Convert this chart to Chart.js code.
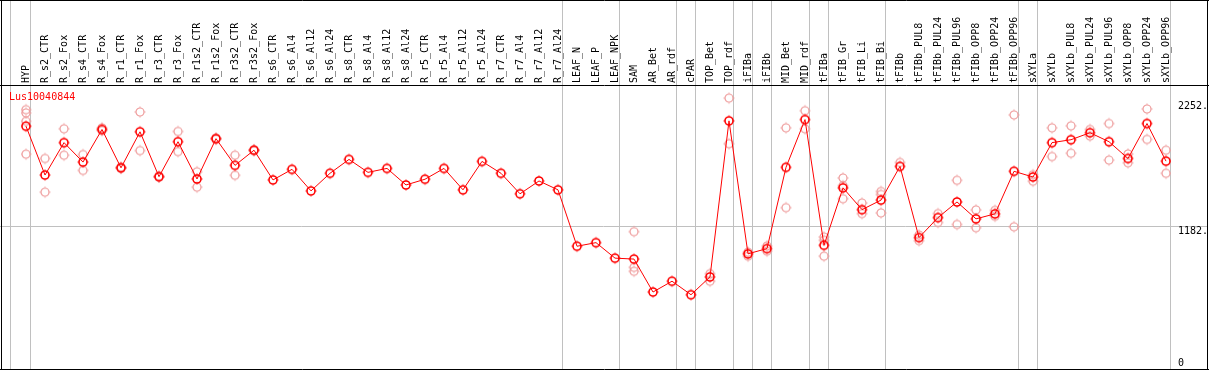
<!DOCTYPE html>
<html>
<head>
<meta charset="utf-8">
<script src="https://cdn.jsdelivr.net/npm/chart.js@4/dist/chart.umd.min.js"></script>
<style>
  html, body { margin: 0; padding: 0; background: #fff; }
  canvas { display: block; }
</style>
</head>
<body>
<canvas id="geneChart" width="1209" height="370"></canvas>
<script>
const geneName = "Lus10040844";

const categories = [
    "HYP", "R_s2_CTR", "R_s2_Fox", "R_s4_CTR", "R_s4_Fox", "R_r1_CTR", "R_r1_Fox",
    "R_r3_CTR", "R_r3_Fox", "R_r1s2_CTR", "R_r1s2_Fox", "R_r3s2_CTR", "R_r3s2_Fox",
    "R_s6_CTR", "R_s6_Al4", "R_s6_Al12", "R_s6_Al24", "R_s8_CTR", "R_s8_Al4",
    "R_s8_Al12", "R_s8_Al24", "R_r5_CTR", "R_r5_Al4", "R_r5_Al12", "R_r5_Al24",
    "R_r7_CTR", "R_r7_Al4", "R_r7_Al12", "R_r7_Al24", "LEAF_N", "LEAF_P", "LEAF_NPK",
    "SAM", "AR_Bet", "AR_rdf", "cPAR", "TOP_Bet", "TOP_rdf", "iFIBa", "iFIBb",
    "MID_Bet", "MID_rdf", "tFIBa", "tFIB_Gr", "tFIB_Li", "tFIB_Bi", "tFIBb",
    "tFIBb_PUL8", "tFIBb_PUL24", "tFIBb_PUL96", "tFIBb_OPP8", "tFIBb_OPP24",
    "tFIBb_OPP96", "sXYLa", "sXYLb", "sXYLb_PUL8", "sXYLb_PUL24", "sXYLb_PUL96",
    "sXYLb_OPP8", "sXYLb_OPP24", "sXYLb_OPP96",
];

// mean expression per sample
const meanValues = [
    2042, 1623, 1901, 1734, 2014, 1685, 1994, 1609, 1909, 1589, 1935, 1706, 1836,
    1581, 1672, 1487, 1638, 1757, 1646, 1680, 1538, 1587, 1680, 1496, 1740,
    1638, 1462, 1572, 1496, 1012, 1043, 910,
    902, 619, 712, 596, 749, 2088, 947, 992, 1689, 2099,
    1020, 1513, 1326, 1408, 1697, 1086, 1258, 1392, 1247, 1290, 1655,
    1606, 1901, 1926, 1986, 1909, 1765, 2065, 1742,
];

// individual replicates per sample
const replicateValues = [
    [2184, 2156, 2084, 1802], [1765, 1476], [2020, 1793], [1799, 1663], [2028, 2005],
    [1690, 1680], [2164, 1833], [1612, 1606], [1997, 1824], [1651, 1519], [1940, 1930],
    [1793, 1621], [1840, 1832],
    [], [], [], [], [], [], [], [], [], [], [], [], [], [], [], [],
    [], [], [],
    [1137, 831, 797], [], [], [], [777, 712], [2283, 1892], [961, 927], [1015, 970],
    [2028, 1343], [2175, 2020],
    [1091, 1063, 927], [1598, 1532, 1420], [1383, 1292], [1482, 1456, 1298], [1731],
    [1108, 1060], [1292, 1216], [1578, 1199], [1324, 1171], [1320, 1269], [2139, 1179],
    [1626, 1570], [2028, 1782], [2045, 1810], [2014, 1957], [2065, 1751], [1804, 1728],
    [2190, 1929], [1836, 1638],
];

// group separators come after these samples
const groupEnds = [0, 28, 31, 34, 35, 37, 38, 39, 41, 42, 45, 52, 53, 60];

const axisTicks = [2252, 1182, 0];
const axisTickLabels = ["2252.", "1182.", "0"];
const gridTicks = [1182];

const FONT = '10px "DejaVu Sans Mono", monospace';

function makeMarker(color, lw) {
    const c = document.createElement("canvas");
    c.width = 14;
    c.height = 14;
    const g = c.getContext("2d");
    g.strokeStyle = color;
    g.lineWidth = lw;
    g.beginPath();
    g.arc(7, 7, 4, 0, Math.PI * 2);
    g.stroke();
    g.fillStyle = color;
    // small nubs on the ring
    g.fillRect(6.5, 1.5, 1, 1.2);
    g.fillRect(6.5, 11.3, 1, 1.2);
    g.fillRect(1.5, 6.5, 1.2, 1);
    g.fillRect(11.3, 6.5, 1.2, 1);
    return c;
}

const replicatePoints = [];
replicateValues.forEach((reps, i) => {
    reps.forEach((v) => replicatePoints.push({ x: categories[i], y: v }));
});

const framePlugin = {
    id: "frame",
    beforeDatasetsDraw(chart) {
        const ctx = chart.ctx;
        const xs = chart.scales.x;
        const ys = chart.scales.y;
        const W = chart.width;
        const H = chart.height;
        ctx.save();
        ctx.strokeStyle = "#c0c0c0";
        ctx.lineWidth = 1;
        ctx.beginPath();
        // leftmost separator before the first sample
        const x0 = Math.round(xs.getPixelForValue(0) - 16) + 0.5;
        ctx.moveTo(x0, 0);
        ctx.lineTo(x0, H);
        groupEnds.forEach((i) => {
            const x = Math.round(xs.getPixelForValue(i) + 4) + 0.5;
            ctx.moveTo(x, 0);
            ctx.lineTo(x, H);
        });
        gridTicks.forEach((t) => {
            const y = Math.round(ys.getPixelForValue(t)) + 0.5;
            ctx.moveTo(0, y);
            ctx.lineTo(W - 2, y);
        });
        ctx.stroke();
        ctx.restore();
    },
    afterDraw(chart) {
        const ctx = chart.ctx;
        const xs = chart.scales.x;
        const ys = chart.scales.y;
        const W = chart.width;
        const H = chart.height;
        ctx.save();

        // black frame
        ctx.strokeStyle = "#000";
        ctx.lineWidth = 1;
        ctx.beginPath();
        ctx.moveTo(0, 0.5); ctx.lineTo(W, 0.5);
        ctx.moveTo(0, 85.5); ctx.lineTo(W, 85.5);
        ctx.moveTo(0, H - 0.5); ctx.lineTo(W, H - 0.5);
        ctx.moveTo(1.5, 0); ctx.lineTo(1.5, H);
        ctx.moveTo(W - 1.5, 0); ctx.lineTo(W - 1.5, H);
        ctx.stroke();

        // sample labels, vertical
        ctx.font = FONT;
        ctx.fillStyle = "#000";
        ctx.textAlign = "left";
        ctx.textBaseline = "middle";
        categories.forEach((lab, i) => {
            const x = xs.getPixelForValue(i);
            ctx.save();
            ctx.translate(x, 83);
            ctx.rotate(-Math.PI / 2);
            ctx.fillText(lab, 0, 0);
            ctx.restore();
        });

        // right side value labels
        ctx.textBaseline = "top";
        axisTicks.forEach((t, k) => {
            let y = ys.getPixelForValue(t);
            y = Math.min(y, H - 12);
            ctx.fillText(axisTickLabels[k], 1178, y);
        });

        // gene name
        ctx.fillStyle = "#ff0000";
        ctx.fillText(geneName, 9, 92);
        ctx.restore();
    },
};

document.addEventListener("DOMContentLoaded", () => {
    const ctx = document.getElementById("geneChart").getContext("2d");

    new Chart(ctx, {
        type: "line",
        data: {
            labels: categories,
            datasets: [
                {
                    label: geneName,
                    data: meanValues,
                    borderColor: "#ff0000",
                    borderWidth: 1,
                    tension: 0,
                    pointStyle: makeMarker("#ff0000", 1.6),
                },
                {
                    label: "replicates",
                    data: replicatePoints,
                    showLine: false,
                    pointStyle: makeMarker("#ee9a9a", 1.2),
                },
            ],
        },
        options: {
            responsive: false,
            animation: false,
            devicePixelRatio: 1,
            layout: {
                padding: { left: 26, right: 43, top: 86, bottom: 2 },
            },
            plugins: {
                legend: { display: false },
                tooltip: { enabled: false },
            },
            scales: {
                x: { type: "category", display: false, offset: false },
                y: { display: false, min: -7, max: 2387 },
            },
        },
        plugins: [framePlugin],
    });
});
</script>
</body>
</html>
